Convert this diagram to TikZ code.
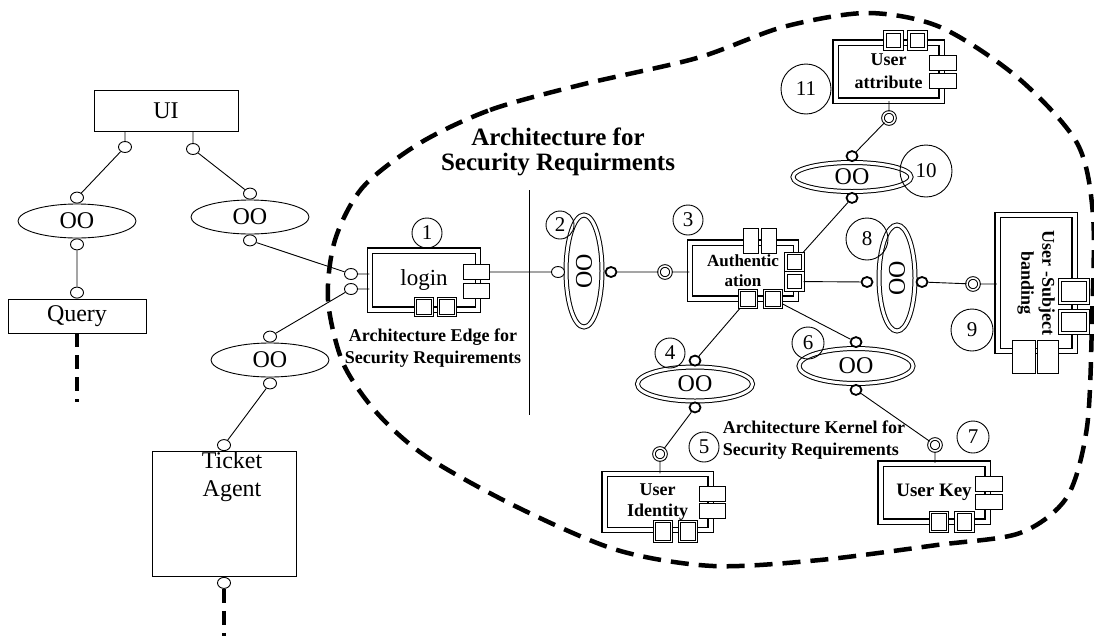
\documentclass[tikz,border=0pt]{standalone}
\usepackage{fontspec}
\setmainfont{Liberation Serif}
\usetikzlibrary{shapes.geometric,positioning}
\begin{document}
\begin{tikzpicture}[x=1pt,y=-1pt,line width=0.9pt]
\useasboundingbox (0,0) rectangle (1094,635);
\tikzstyle{box}=[draw,rectangle,inner sep=0pt,font=\fontsize{24}{27}\selectfont]
\tikzstyle{oo}=[draw,ellipse,minimum width=118pt,minimum height=34pt,inner sep=0pt,font=\fontsize{24}{27}\selectfont]
\tikzstyle{doo}=[draw,ellipse,double,double distance=3pt,line width=1pt,inner sep=0pt,font=\fontsize{24}{27}\selectfont]
\tikzstyle{comp}=[draw,rectangle,double,double distance=4pt,line width=1.1pt,inner sep=0pt,align=center,font=\bfseries\fontsize{18}{22}\selectfont]
\tikzstyle{sq}=[draw,rectangle,double,double distance=1.2pt,line width=1.1pt,fill=white,minimum size=17pt,inner sep=0pt]
\tikzstyle{rc}=[draw,rectangle,fill=white,minimum width=26pt,minimum height=15pt,inner sep=0pt]
\tikzstyle{port}=[draw,ellipse,fill=white,minimum width=13pt,minimum height=11pt,inner sep=0pt]
\tikzstyle{rport}=[draw,ellipse,fill=white,line width=1.8pt,minimum width=11pt,minimum height=10pt,inner sep=0pt]
\tikzstyle{dport}=[draw,circle,double,double distance=1.6pt,line width=1pt,fill=white,minimum size=12pt,inner sep=0pt]
\tikzstyle{num}=[draw,circle,minimum size=30pt,inner sep=0pt,font=\fontsize{21}{23}\selectfont]
\tikzstyle{lab}=[align=center,font=\bfseries\fontsize{18}{22}\selectfont]
\tikzstyle{boundary}=[line width=4.5pt,dash pattern=on 18pt off 10pt]
% left side
\node (ui)[box,minimum width=144pt,minimum height=41pt] at (166,111) {UI};
\node (uiA)[port] at (125,147) {};
\node (uiB)[port] at (193,149) {};
\node (ooL)[oo] at (77,221) {OO};
\node (ooLt)[port,above=0pt of ooL] {};
\node (ooLb)[port,below=0pt of ooL] {};
\node (query)[box,minimum width=138pt,minimum height=34pt] at (77,316) {Query};
\node (qp)[port,above=0pt of query] {};
\coordinate (qend) at (77,402);
\node (ooR)[oo] at (250,217) {OO};
\node (ooRt)[port,above=0pt of ooR] {};
\node (ooRb)[port,below=0pt of ooR] {};
\node (ooT)[oo] at (270,360) {OO};
\node (ooTt)[port,above=0pt of ooT] {};
\node (ooTb)[port,below=0pt of ooT] {};
\node (ticket)[box,minimum width=144pt,minimum height=125pt] at (224,514) {};
\node (ticketlab)[align=center,font=\fontsize{24}{28}\selectfont] at (232,477) {Ticket\\Agent};
\node (tp)[port,above=0pt of ticket] {};
\node (tb)[port,below=0pt of ticket] {};
\coordinate (tend) at (224,640);
% edge: login
\node (login)[comp,minimum width=108pt,minimum height=59pt,font=\fontsize{23}{25}\selectfont] at (424,280) {login};
\node (lgR1)[rc] at (476,272) {};
\node (lgR2)[rc] at (476,291) {};
\node (lgS1)[sq] at (424,307) {};
\node (lgS2)[sq] at (447,307) {};
\node (lgA)[port] at (351,274) {};
\node (lgB)[port] at (351,289) {};
\node (n1)[num] at (427,233) {1};
\node (edgelab)[lab] at (433,348) {Architecture Edge for\\Security Requirements};
\node (title)[align=center,font=\bfseries\fontsize{25}{25}\selectfont] at (558,152) {Architecture for\\Security Requirments};
\coordinate (sepT) at (529,190);
\coordinate (sepB) at (529,415);
% kernel
\node (oo2)[doo,rotate=90,minimum width=112pt,minimum height=36pt] at (584,271) {OO};
\node (oo2a)[port] at (558,272) {};
\node (oo2b)[rport] at (611,272) {};
\node (n2)[num,minimum size=28pt] at (560,225) {2};
\node (auth)[comp,minimum width=106pt,minimum height=56pt,font=\bfseries\fontsize{17}{20}\selectfont] at (743,270.5) {Authentic\\ation};
\node (auT1)[rc,minimum width=15pt,minimum height=25pt] at (750.5,240.5) {};
\node (auT2)[rc,minimum width=15pt,minimum height=25pt] at (768.5,240.5) {};
\node (auR1)[sq] at (794.5,262) {};
\node (auR2)[sq] at (794.5,281.5) {};
\node (auS1)[sq] at (748,299) {};
\node (auS2)[sq] at (773,299) {};
\node (auP)[dport] at (665,272) {};
\node (n3)[num] at (688,220) {3};
\node (attr)[comp,minimum width=106pt,minimum height=58pt,font=\bfseries\fontsize{18}{23}\selectfont] at (888.5,71.5) {User\\attribute};
\node (atT1)[sq] at (893.5,40.5) {};
\node (atT2)[sq] at (917.5,40.5) {};
\node (atR1)[rc,minimum width=27pt] at (942.5,62.5) {};
\node (atR2)[rc,minimum width=27pt] at (942.5,80.5) {};
\node (atP)[dport] at (889,118) {};
\node (n11)[num,minimum size=50pt] at (806,89) {11};
\node (oo10)[doo,minimum width=118pt,minimum height=29pt] at (852,177) {OO};
\node (oo10t)[rport,above=0pt of oo10] {};
\node (oo10b)[rport,below=0pt of oo10] {};
\node (n10)[num,minimum size=52pt] at (926,171) {10};
\node (oo8)[doo,rotate=90,minimum width=106pt,minimum height=36pt] at (897,278) {OO};
\node (oo8a)[rport] at (867,282) {};
\node (oo8b)[rport] at (922,282) {};
\node (n8)[num,minimum size=42pt] at (867,239) {8};
\node (usb)[comp,rotate=-90,minimum width=136pt,minimum height=77pt,font=\bfseries\fontsize{18}{21}\selectfont] at (1036,283) {User -Subject\\banding};
\node (usR1)[sq,minimum width=28pt,minimum height=23pt] at (1074,291.5) {};
\node (usR2)[sq,minimum width=28pt,minimum height=22pt] at (1074,322) {};
\node (usB1)[rc,minimum width=23pt,minimum height=33pt] at (1023.5,356.5) {};
\node (usB2)[rc,minimum width=21pt,minimum height=33pt] at (1047.5,356.5) {};
\node (usP)[dport] at (973,284) {};
\node (n9)[num,minimum size=42pt] at (972,330) {9};
\node (oo4)[doo,minimum width=115pt,minimum height=34pt] at (695,384) {OO};
\node (oo4t)[rport,above=0pt of oo4] {};
\node (oo4b)[rport,below=0pt of oo4] {};
\node (n4)[num] at (670,353) {4};
\node (oo6)[doo,minimum width=114pt,minimum height=35pt] at (856,366) {OO};
\node (oo6t)[rport,above=0pt of oo6] {};
\node (oo6b)[rport,below=0pt of oo6] {};
\node (n6)[num,minimum size=32pt] at (808,343) {6};
\node (ident)[comp,minimum width=106pt,minimum height=56pt,font=\bfseries\fontsize{18}{21}\selectfont] at (657.5,502) {User\\Identity};
\node (idR1)[rc] at (712,494) {};
\node (idR2)[rc] at (712,511) {};
\node (idS1)[sq,minimum height=20pt] at (663,531.5) {};
\node (idS2)[sq,minimum height=20pt] at (688,531.5) {};
\node (idP)[dport] at (660,454) {};
\node (n5)[num] at (704,447) {5};
\node (kernlab)[lab,align=left,anchor=west] at (719,440) {Architecture Kernel for\\Security Requirements};
\node (ukey)[comp,minimum width=107pt,minimum height=58pt,font=\bfseries\fontsize{19}{21}\selectfont] at (934,492.5) {User Key};
\node (ukR1)[rc,minimum width=27pt] at (988.5,484) {};
\node (ukR2)[rc,minimum width=27pt] at (988.5,501.5) {};
\node (ukS1)[sq,minimum height=19pt] at (939,522) {};
\node (ukS2)[sq,minimum height=19pt] at (964.5,522) {};
\node (ukP)[dport] at (935,445) {};
\node (n7)[num,minimum size=32pt] at (973,437) {7};
% connectors
\draw (uiA) -- (uiA |- ui.south)
 (uiB) -- (uiB |- ui.south)
 (uiA) -- (ooLt)
 (uiB) -- (ooRt)
 (ooLb) -- (qp)
 (ooRb) -- (lgA)
 (lgB) -- (ooTt)
 (ooTb) -- (tp)
 (lgA) -- (lgA -| login.west)
 (lgB) -- (lgB -| login.west)
 (lgR1) -- (oo2a)
 (oo2b) -- (auP)
 (auP) -- (auP -| auth.west)
 (auR1) -- (oo10b)
 (oo10t) -- (atP)
 (atP) -- (atP |- attr.south)
 (auR2) -- (oo8a)
 (oo8b) -- (usP)
 (usP) -- (usP -| usb.south)
 (auS1) -- (oo4t)
 (auS2) -- (oo6t)
 (oo4b) -- (idP)
 (idP) -- (idP |- ident.north)
 (oo6b) -- (ukP)
 (ukP) -- (ukP |- ukey.north);
\draw (sepT) -- (sepB);
\draw[line width=4pt,dash pattern=on 14pt off 8pt] (query) -- (qend);
\draw[line width=4pt,dash pattern=on 14pt off 8pt] (tb) -- (tend);
% boundary of the security architecture
\draw[boundary] plot[smooth cycle] coordinates {(420,143) (490,110) (580,85) (697,58) (783,27) (867,13) (940,27) (1017,77) (1077,143) (1093,215) (1092,320) (1087,427) (1067,497) (1020,533) (937,545) (820,560) (713,566) (617,550) (517,507) (427,457) (377,413) (343,363) (328,300) (335,240) (363,187)};
\end{tikzpicture}
\end{document}
